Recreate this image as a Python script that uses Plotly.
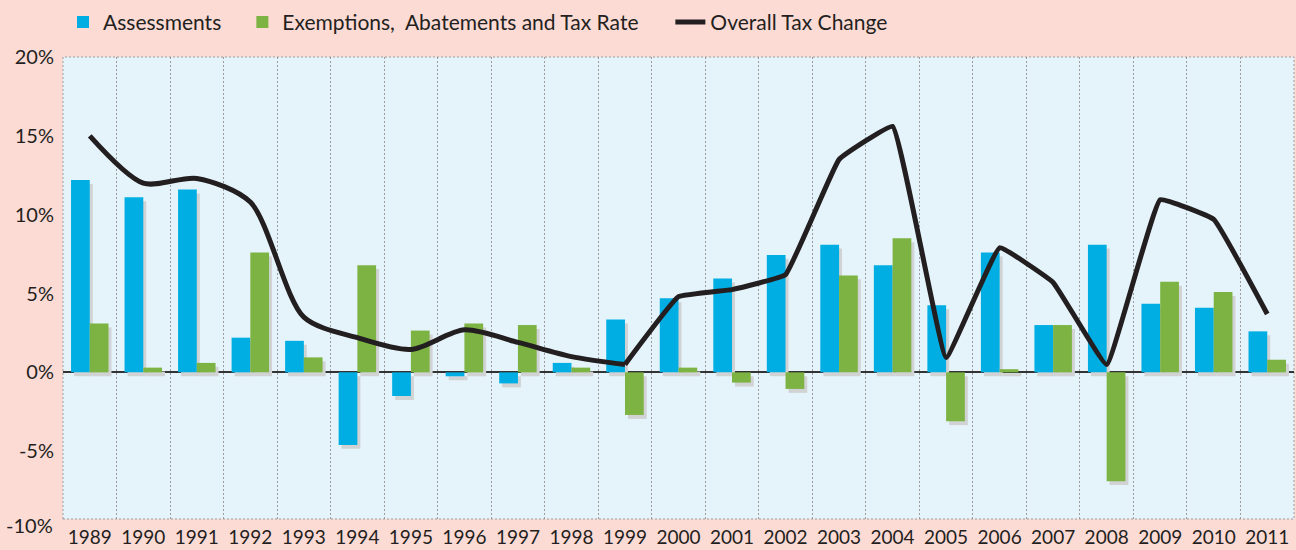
import plotly.graph_objects as go

years = [str(y) for y in range(1989, 2012)]
assessments = [12.2, 11.1, 11.6, 2.2, 2.0, -4.6, -1.5, -0.25, -0.7, 0.6, 3.35, 4.7,
               5.95, 7.45, 8.1, 6.8, 4.25, 7.6, 3.0, 8.1, 4.35, 4.1, 2.6]
exemptions = [3.1, 0.3, 0.6, 7.6, 0.95, 6.8, 2.65, 3.1, 3.0, 0.3, -2.7, 0.3,
              -0.65, -1.05, 6.15, 8.5, -3.1, 0.2, 3.0, -6.9, 5.75, 5.1, 0.8]
overall = [15.0, 12.0, 12.3, 10.8, 3.5, 2.2, 1.45, 2.7, 1.9, 1.0, 0.5, 4.8,
           5.25, 6.2, 13.5, 15.6, 0.95, 7.9, 5.7, 0.5, 10.95, 9.7, 3.7]
y_ticks = [20, 15, 10, 5, 0, -5]
y_tick_text = ["20%", "15%", "10%", "5%", "0%", "-5%"]

BLUE = "#00AEE3"
GREEN = "#7CB342"
SHADOW = "#D0D2D3"
LINE = "#231F20"
TEXT = "#231F20"
GRID = "#9A9C9E"
FONT = "Lato"
PAD = "\u00a0"

W = 0.35       # bar width (category units)
DX = 0.056     # shadow horizontal shift
DY = 0.25      # shadow vertical shift (percent units)
SPLIT = 10     # smooth part of the line up to 1999, sharper afterwards

fig = go.Figure()

# shadows
fig.add_trace(go.Bar(x=years, y=assessments, base=-DY, width=W, offset=-W + DX,
                     marker=dict(color=SHADOW, line=dict(width=0)),
                     showlegend=False, hoverinfo="skip"))
fig.add_trace(go.Bar(x=years, y=exemptions, base=-DY, width=W, offset=DX,
                     marker=dict(color=SHADOW, line=dict(width=0)),
                     showlegend=False, hoverinfo="skip"))
# bars
fig.add_trace(go.Bar(x=years, y=assessments, width=W, offset=-W,
                     name="Assessments" + PAD * 3,
                     marker=dict(color=BLUE, line=dict(width=0))))
fig.add_trace(go.Bar(x=years, y=exemptions, width=W, offset=0,
                     name="Exemptions," + PAD * 2 + "Abatements and Tax Rate" + PAD * 5,
                     marker=dict(color=GREEN, line=dict(width=0))))
# line (one series, drawn in two pieces with different smoothing)
fig.add_trace(go.Scatter(x=years[:SPLIT + 1], y=overall[:SPLIT + 1], mode="lines",
                         name="Overall Tax Change", legendgroup="overall",
                         line=dict(color=LINE, width=5, shape="spline", smoothing=0.8)))
fig.add_trace(go.Scatter(x=years[SPLIT:], y=overall[SPLIT:], mode="lines",
                         name="Overall Tax Change", legendgroup="overall", showlegend=False,
                         line=dict(color=LINE, width=5, shape="spline", smoothing=0.25)))

fig.update_layout(
    width=1296, height=550,
    barmode="overlay",
    paper_bgcolor="#FCDBD5",
    plot_bgcolor="#E5F4FB",
    margin=dict(l=63, r=2, t=57, b=29),
    font=dict(family=FONT, size=18, color=TEXT),
    legend=dict(orientation="h", x=0.0, xanchor="left", y=1.075, yanchor="middle",
                font=dict(family=FONT, size=21, color=TEXT), bgcolor="rgba(0,0,0,0)",
                traceorder="normal", itemwidth=30),
    xaxis=dict(type="category", tickson="boundaries", showgrid=True, griddash="2px,2px",
               gridcolor=GRID, gridwidth=1, ticks="", showline=False,
               ticklabelstandoff=5,
               tickfont=dict(size=19, color=TEXT), range=[-0.5, 22.5]),
    yaxis=dict(range=[-9.3, 20], tickvals=y_ticks, ticktext=y_tick_text, showgrid=False,
               zeroline=True, zerolinecolor="#333333", zerolinewidth=2,
               ticks="", ticklabelstandoff=8, tickfont=dict(size=20, color=TEXT)),
    shapes=[dict(type="rect", xref="paper", yref="paper", x0=0, x1=1, y0=0, y1=1,
                 line=dict(color=GRID, width=1, dash="2px,2px"), layer="below")],
    annotations=[dict(text="-10%", xref="paper", yref="paper", x=0, y=0, xanchor="right",
                      yanchor="middle", xshift=-8, yshift=-6, showarrow=False,
                      font=dict(size=20, color=TEXT, family=FONT))],
)

fig.write_html("out.html", config={"displayModeBar": False},
               post_script="document.body.style.margin='0';")
